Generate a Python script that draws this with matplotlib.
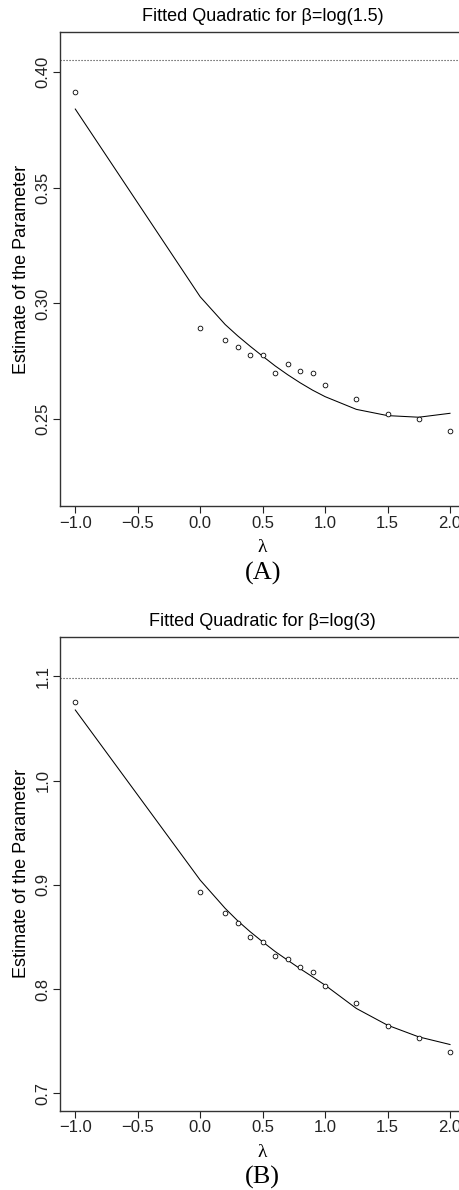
import matplotlib
matplotlib.use("Agg")
import matplotlib.pyplot as plt

# --- data
lam = [-1.0, 0.0, 0.2, 0.3, 0.4, 0.5, 0.6, 0.7, 0.8, 0.9, 1.0, 1.25, 1.5, 1.75, 2.0]

est_a = [0.3913, 0.2895, 0.2843, 0.2813, 0.2779, 0.2776, 0.2701, 0.2737,
         0.2707, 0.2698, 0.2649, 0.2588, 0.2521, 0.2499, 0.2449]
fit_a = [0.3841, 0.3029, 0.2909, 0.2860, 0.2815, 0.2772, 0.2730, 0.2692,
         0.2657, 0.2625, 0.2597, 0.2542, 0.2515, 0.2508, 0.2525]
true_a = 0.405465  # log(1.5)

est_b = [1.0750, 0.8930, 0.8731, 0.8635, 0.8498, 0.8453, 0.8316, 0.8284,
         0.8207, 0.8162, 0.8028, 0.7868, 0.7644, 0.7526, 0.7392]
fit_b = [1.0677, 0.9045, 0.8774, 0.8655, 0.8550, 0.8453, 0.8360, 0.8277,
         0.8195, 0.8117, 0.8037, 0.7814, 0.7653, 0.7541, 0.7468]
true_b = 1.098612  # log(3)

xticks = [-1.0, -0.5, 0.0, 0.5, 1.0, 1.5, 2.0]
yticks_a = [0.25, 0.30, 0.35, 0.40]
yticks_b = [0.7, 0.8, 0.9, 1.0, 1.1]

W, H = 459, 1190
fig = plt.figure(figsize=(W / 100, H / 100), dpi=100)
plt.rcParams['font.family'] = ['Liberation Sans', 'DejaVu Sans']


def panel(top, bottom, est, fit, truth, yticks, yfmt, ylim, title, tag):
    ax = fig.add_axes([60.3 / W, 1 - bottom / H, (465 - 60.3) / W, (bottom - top) / H])
    ax.plot(lam, fit, color='black', lw=0.75)
    ax.plot(lam, est, 'o', ms=3.4, mfc='white', mec='black', mew=0.6, ls='none')
    ax.axhline(truth, color='#333333', lw=0.8, dashes=(1, 1.7))
    ax.set_xlim(-1.12, 2.12)
    ax.set_ylim(*ylim)
    ax.set_xticks(xticks)
    ax.set_xticklabels([f'{t:.1f}'.replace('-', '\u2212') for t in xticks])
    ax.set_yticks(yticks)
    ax.set_yticklabels([yfmt.format(t) for t in yticks], rotation=90, va='center')
    ax.tick_params(length=5, width=0.8, labelsize=12, colors='#222222', pad=2)
    for s in ax.spines.values():
        s.set_color('#333333')
        s.set_linewidth(1.0)
    ax.set_title(title, fontsize=13, pad=8)
    ax.set_ylabel('Estimate of the Parameter', fontsize=13, labelpad=4)
    cx = (60.3 + 465) / 2
    fig.text(cx / W, 1 - (bottom + 42) / H, '\u03bb', ha='center', va='center',
             fontsize=14, family=['Liberation Serif', 'DejaVu Serif'])
    fig.text(cx / W, 1 - (bottom + 67) / H, tag, ha='center', va='center',
             fontsize=19, family=['Liberation Serif', 'DejaVu Serif'])
    return ax


panel(32.3, 506, est_a, fit_a, true_a, yticks_a, '{:.2f}', (0.2124, 0.4173),
      'Fitted Quadratic for \u03b2=log(1.5)', '(A)')
panel(636.7, 1110.7, est_b, fit_b, true_b, yticks_b, '{:.1f}', (0.6833, 1.138),
      'Fitted Quadratic for \u03b2=log(3)', '(B)')

fig.savefig('out.png', dpi=100)
